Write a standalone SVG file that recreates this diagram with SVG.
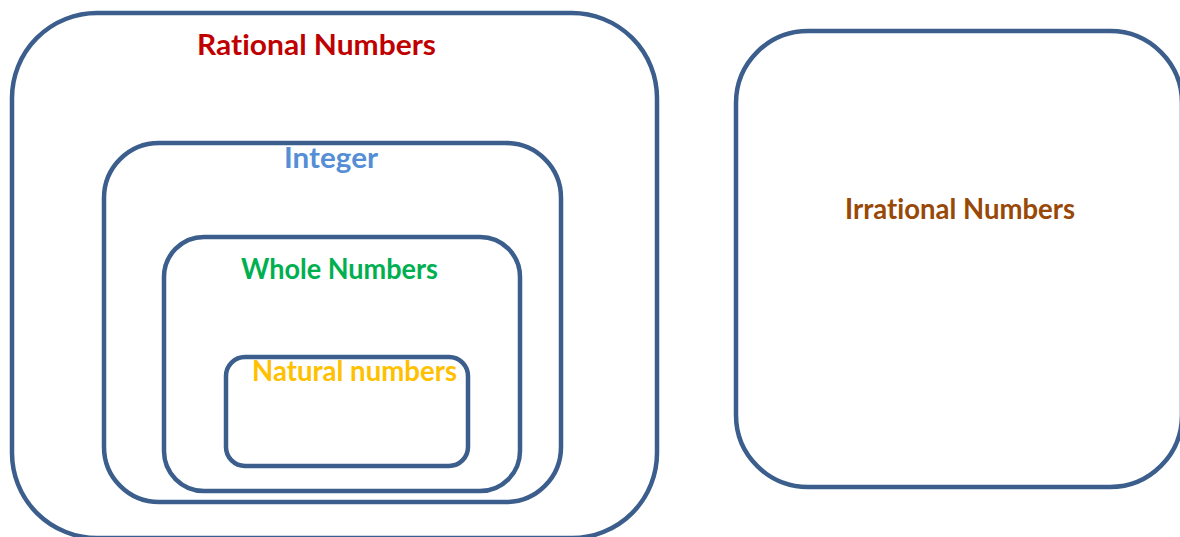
<svg xmlns="http://www.w3.org/2000/svg" width="1180" height="537" viewBox="0 0 1180 537">
  <style>
    .box { fill: none; stroke: #3B5E8C; stroke-width: 4.5; }
    .lbl { font-family: Lato, "Open Sans", "Liberation Sans", sans-serif; font-weight: bold; font-size: 28px; font-variant-ligatures: none; }
  </style>
  <rect width="1180" height="537" fill="#ffffff"/>
  <g id="rational">
    <rect class="box" x="12" y="13" width="645" height="525" rx="85" ry="85"/>
    <text class="lbl" x="197" y="55" fill="#C00000" textLength="239" lengthAdjust="spacingAndGlyphs">Rational Numbers</text>
  </g>
  <g id="integer">
    <rect class="box" x="104" y="143" width="457" height="359" rx="55" ry="55"/>
    <text class="lbl" x="284" y="168" fill="#558ED5" textLength="94" lengthAdjust="spacingAndGlyphs">Integer</text>
  </g>
  <g id="whole">
    <rect class="box" x="164" y="237" width="356" height="254" rx="40" ry="40"/>
    <text class="lbl" x="241" y="279" fill="#00B050" textLength="197" lengthAdjust="spacingAndGlyphs">Whole Numbers</text>
  </g>
  <g id="natural">
    <rect class="box" x="226" y="357" width="242" height="109" rx="19" ry="19"/>
    <text class="lbl" x="252" y="381" fill="#FFC000" textLength="205" lengthAdjust="spacingAndGlyphs">Natural numbers</text>
  </g>
  <g id="irrational">
    <rect class="box" x="736" y="31" width="446" height="456" rx="72" ry="72"/>
    <text class="lbl" x="845" y="219" fill="#984807" textLength="230" lengthAdjust="spacingAndGlyphs">Irrational Numbers</text>
  </g>
  <g id="connectors"></g>
</svg>
